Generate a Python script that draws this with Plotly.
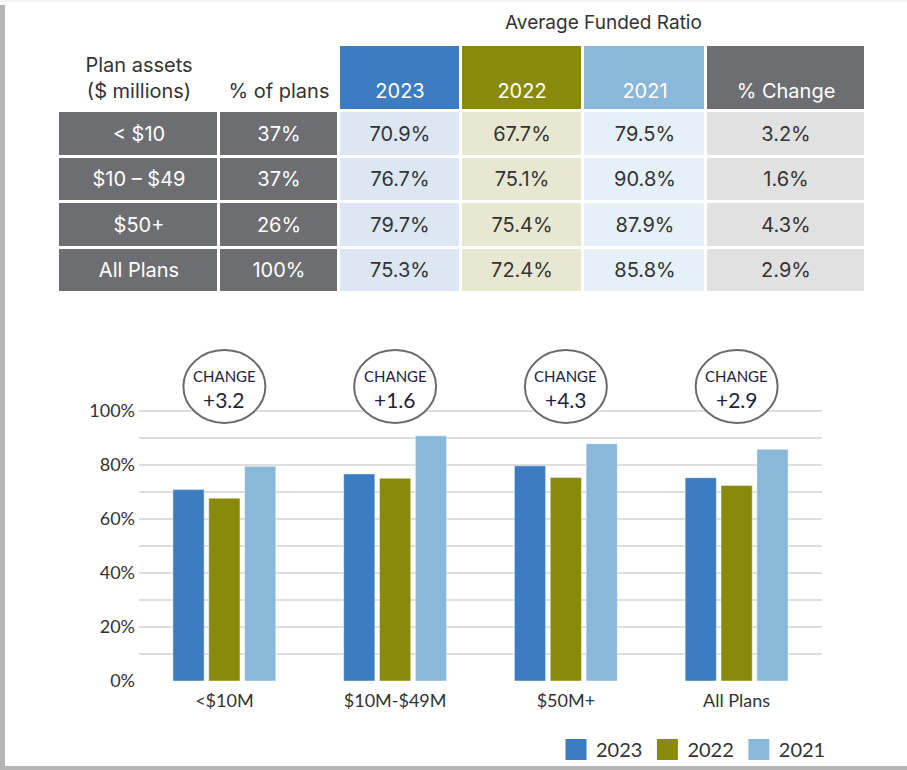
import numpy as np
import plotly.graph_objects as go

# ---------------------------------------------------------------------------
# Data
# ---------------------------------------------------------------------------
asset_bands = ["&lt; $10", "$10 – $49", "$50+", "All Plans"]
pct_of_plans = ["37%", "37%", "26%", "100%"]
years = ["2023", "2022", "2021"]
ratio_2023 = [70.9, 76.7, 79.7, 75.3]
ratio_2022 = [67.7, 75.1, 75.4, 72.4]
ratio_2021 = [79.5, 90.8, 87.9, 85.8]
pct_change = [3.2, 1.6, 4.3, 2.9]
categories = ["&lt;$10M", "$10M-$49M", "$50M+", "All Plans"]
y_ticks = [0, 20, 40, 60, 80, 100]

# ---------------------------------------------------------------------------
# Styling
# ---------------------------------------------------------------------------
YEAR_COLORS = {"2023": "#3c7dc2", "2022": "#898a0b", "2021": "#8ab8da"}
GRAY_DARK = "#6d6e71"
HEAD_FILLS = ["#ffffff", "#ffffff", YEAR_COLORS["2023"], YEAR_COLORS["2022"],
              YEAR_COLORS["2021"], GRAY_DARK]
BODY_FILLS = [GRAY_DARK, GRAY_DARK, "#dce7f3", "#e8e8d2", "#e6f0f8", "#e1e1e1"]
HEAD_WHITE_TEXT = [False, False, True, True, True, True]
BODY_WHITE_TEXT = [True, True, False, False, False, False]
TEXT = "#333333"
NAVY = "#1c2340"
TABLE_FONT = "Inter"
CHART_FONT = "Lato"

W, H = 907, 770
COL_W = [161, 120, 122, 122, 123, 160]     # table column widths (px)
ROW_H = [66, 45.5, 45.5, 45.5, 45.5]       # header + 4 body rows (px)
Y_MAX = 100.5                              # a little headroom so the 100% grid shows

# ---------------------------------------------------------------------------
# Table built as heatmap bricks
# ---------------------------------------------------------------------------
x_edges = np.concatenate([[0], np.cumsum(COL_W)])
y_edges = np.concatenate([[0], np.cumsum(ROW_H)])

header_text = ["Plan assets<br>($ millions)", "\u00a0<br>% of plans"] \
    + ["\u00a0<br>" + y for y in years] + ["\u00a0<br>% Change"]
body_cols = [asset_bands, pct_of_plans,
             [f"{v:.1f}%" for v in ratio_2023],
             [f"{v:.1f}%" for v in ratio_2022],
             [f"{v:.1f}%" for v in ratio_2021],
             [f"{v:.1f}%" for v in pct_change]]

cell_text = [header_text] + [[col[r] for col in body_cols] for r in range(4)]
cell_fill = [HEAD_FILLS] + [BODY_FILLS] * 4
cell_white = [HEAD_WHITE_TEXT] + [BODY_WHITE_TEXT] * 4

palette = list(dict.fromkeys(HEAD_FILLS + BODY_FILLS))
z_fill = [[palette.index(c) for c in row] for row in cell_fill]
fill_scale = [[k / (len(palette) - 1), c] for k, c in enumerate(palette)]
clear_scale = [[0, "rgba(0,0,0,0)"], [1, "rgba(0,0,0,0)"]]

fig = go.Figure()

fig.add_trace(go.Heatmap(
    x=x_edges, y=y_edges, z=z_fill,
    colorscale=fill_scale, zmin=0, zmax=len(palette) - 1, showscale=False,
    xgap=3, ygap=3, xaxis="x2", yaxis="y2", hoverinfo="skip",
))
for white in (True, False):
    txt = [[t if w == white else "" for t, w in zip(trow, wrow)]
           for trow, wrow in zip(cell_text, cell_white)]
    fig.add_trace(go.Heatmap(
        x=x_edges, y=y_edges, z=np.zeros((5, 6)),
        colorscale=clear_scale, showscale=False,
        text=txt, texttemplate="%{text}",
        textfont=dict(family=TABLE_FONT, size=20, color="white" if white else TEXT),
        xaxis="x2", yaxis="y2", hoverinfo="skip",
    ))

# ---------------------------------------------------------------------------
# Bars
# ---------------------------------------------------------------------------
for year, vals in zip(years, [ratio_2023, ratio_2022, ratio_2021]):
    fig.add_trace(go.Bar(
        x=categories, y=vals, name=year,
        marker=dict(color=YEAR_COLORS[year],
                    line=dict(color="rgba(255,255,255,0.45)", width=1)),
        showlegend=False,
        hovertemplate="%{x}<br>" + year + ": %{y:.1f}%<extra></extra>",
    ))

# legend squares (bigger than the default bar swatch)
for year in years:
    fig.add_trace(go.Scatter(
        x=[None], y=[None], mode="markers", name=year,
        marker=dict(size=16, color=YEAR_COLORS[year], symbol="square",
                    line=dict(color=YEAR_COLORS[year], width=5)),
    ))

# ---------------------------------------------------------------------------
# Change bubbles, title, frame
# ---------------------------------------------------------------------------
shapes = []
annotations = []
for i, ch in enumerate(pct_change):
    shapes.append(dict(
        type="circle", xref="x", yref="paper", xsizemode="pixel",
        xanchor=i, x0=-41, x1=41,
        y0=1 - 423 / H, y1=1 - 350 / H,
        line=dict(color="#6b6b6b", width=2), fillcolor="white", layer="above",
    ))
    annotations.append(dict(
        x=i, y=1 - 376 / H, xref="x", yref="paper", text="CHANGE",
        yanchor="middle", showarrow=False,
        font=dict(family=CHART_FONT, size=15, color=NAVY),
    ))
    annotations.append(dict(
        x=i, y=1 - 400 / H, xref="x", yref="paper", text=f"+{ch}",
        yanchor="middle", showarrow=False,
        font=dict(family=CHART_FONT, size=21, color=NAVY),
    ))

annotations.append(dict(
    x=603 / W, y=1 - 23 / H, xref="paper", yref="paper", yanchor="middle",
    text="Average Funded Ratio", showarrow=False,
    font=dict(family=TABLE_FONT, size=19, color=TEXT),
))

shapes += [
    dict(type="rect", xref="paper", yref="paper", x0=0, x1=5 / W, y0=0, y1=1 - 5 / H,
         fillcolor="#b5b5b5", line_width=0, layer="below"),
    dict(type="rect", xref="paper", yref="paper", x0=0, x1=1, y0=0, y1=4 / H,
         fillcolor="#b5b5b5", line_width=0, layer="below"),
    dict(type="line", xref="paper", yref="paper", x0=0, x1=1, y0=1 - 1 / H, y1=1 - 1 / H,
         line=dict(color="#ececec", width=1), layer="below"),
]

plot_top = 681 - 270 * Y_MAX / 100   # 0% at 681px, 100% at 411px

fig.update_layout(
    width=W, height=H,
    margin=dict(l=0, r=0, t=0, b=0, autoexpand=False),
    paper_bgcolor="white", plot_bgcolor="rgba(0,0,0,0)",
    font=dict(family=CHART_FONT, color=TEXT),
    barmode="group", bargap=0.37, bargroupgap=0.13,
    xaxis=dict(
        domain=[139 / W, 822 / W],
        tickvals=categories, ticktext=categories,
        tickfont=dict(size=18, color=TEXT),
        showgrid=False, showline=False, zeroline=False, ticks="",
        ticklabelstandoff=7, automargin=False,
    ),
    yaxis=dict(
        domain=[1 - 681 / H, 1 - plot_top / H],
        range=[0, Y_MAX],
        tickvals=y_ticks, ticktext=[f"{t}%" for t in y_ticks],
        tickfont=dict(size=18, color=TEXT),
        showgrid=True, gridcolor="#dedede", gridwidth=2,
        minor=dict(dtick=10, tick0=0, showgrid=True, gridcolor="#dedede", gridwidth=2),
        zeroline=False, showline=False, ticks="", ticklabelstandoff=3,
        automargin=False,
    ),
    xaxis2=dict(
        domain=[58 / W, 866 / W], range=[0, x_edges[-1]],
        visible=False, fixedrange=True, automargin=False,
    ),
    yaxis2=dict(
        domain=[1 - 293 / H, 1 - 45 / H], range=[y_edges[-1], 0],
        visible=False, fixedrange=True, automargin=False,
    ),
    legend=dict(
        orientation="h", xref="container", yref="container",
        x=556 / W, xanchor="left", y=1 - 749.5 / H, yanchor="middle",
        font=dict(family=CHART_FONT, size=20, color=TEXT),
        itemwidth=30, bgcolor="rgba(0,0,0,0)",
    ),
    shapes=shapes,
    annotations=annotations,
)

fig.write_html(
    "out.html",
    config={"displayModeBar": False},
    post_script="document.body.style.margin='0px';",
)
